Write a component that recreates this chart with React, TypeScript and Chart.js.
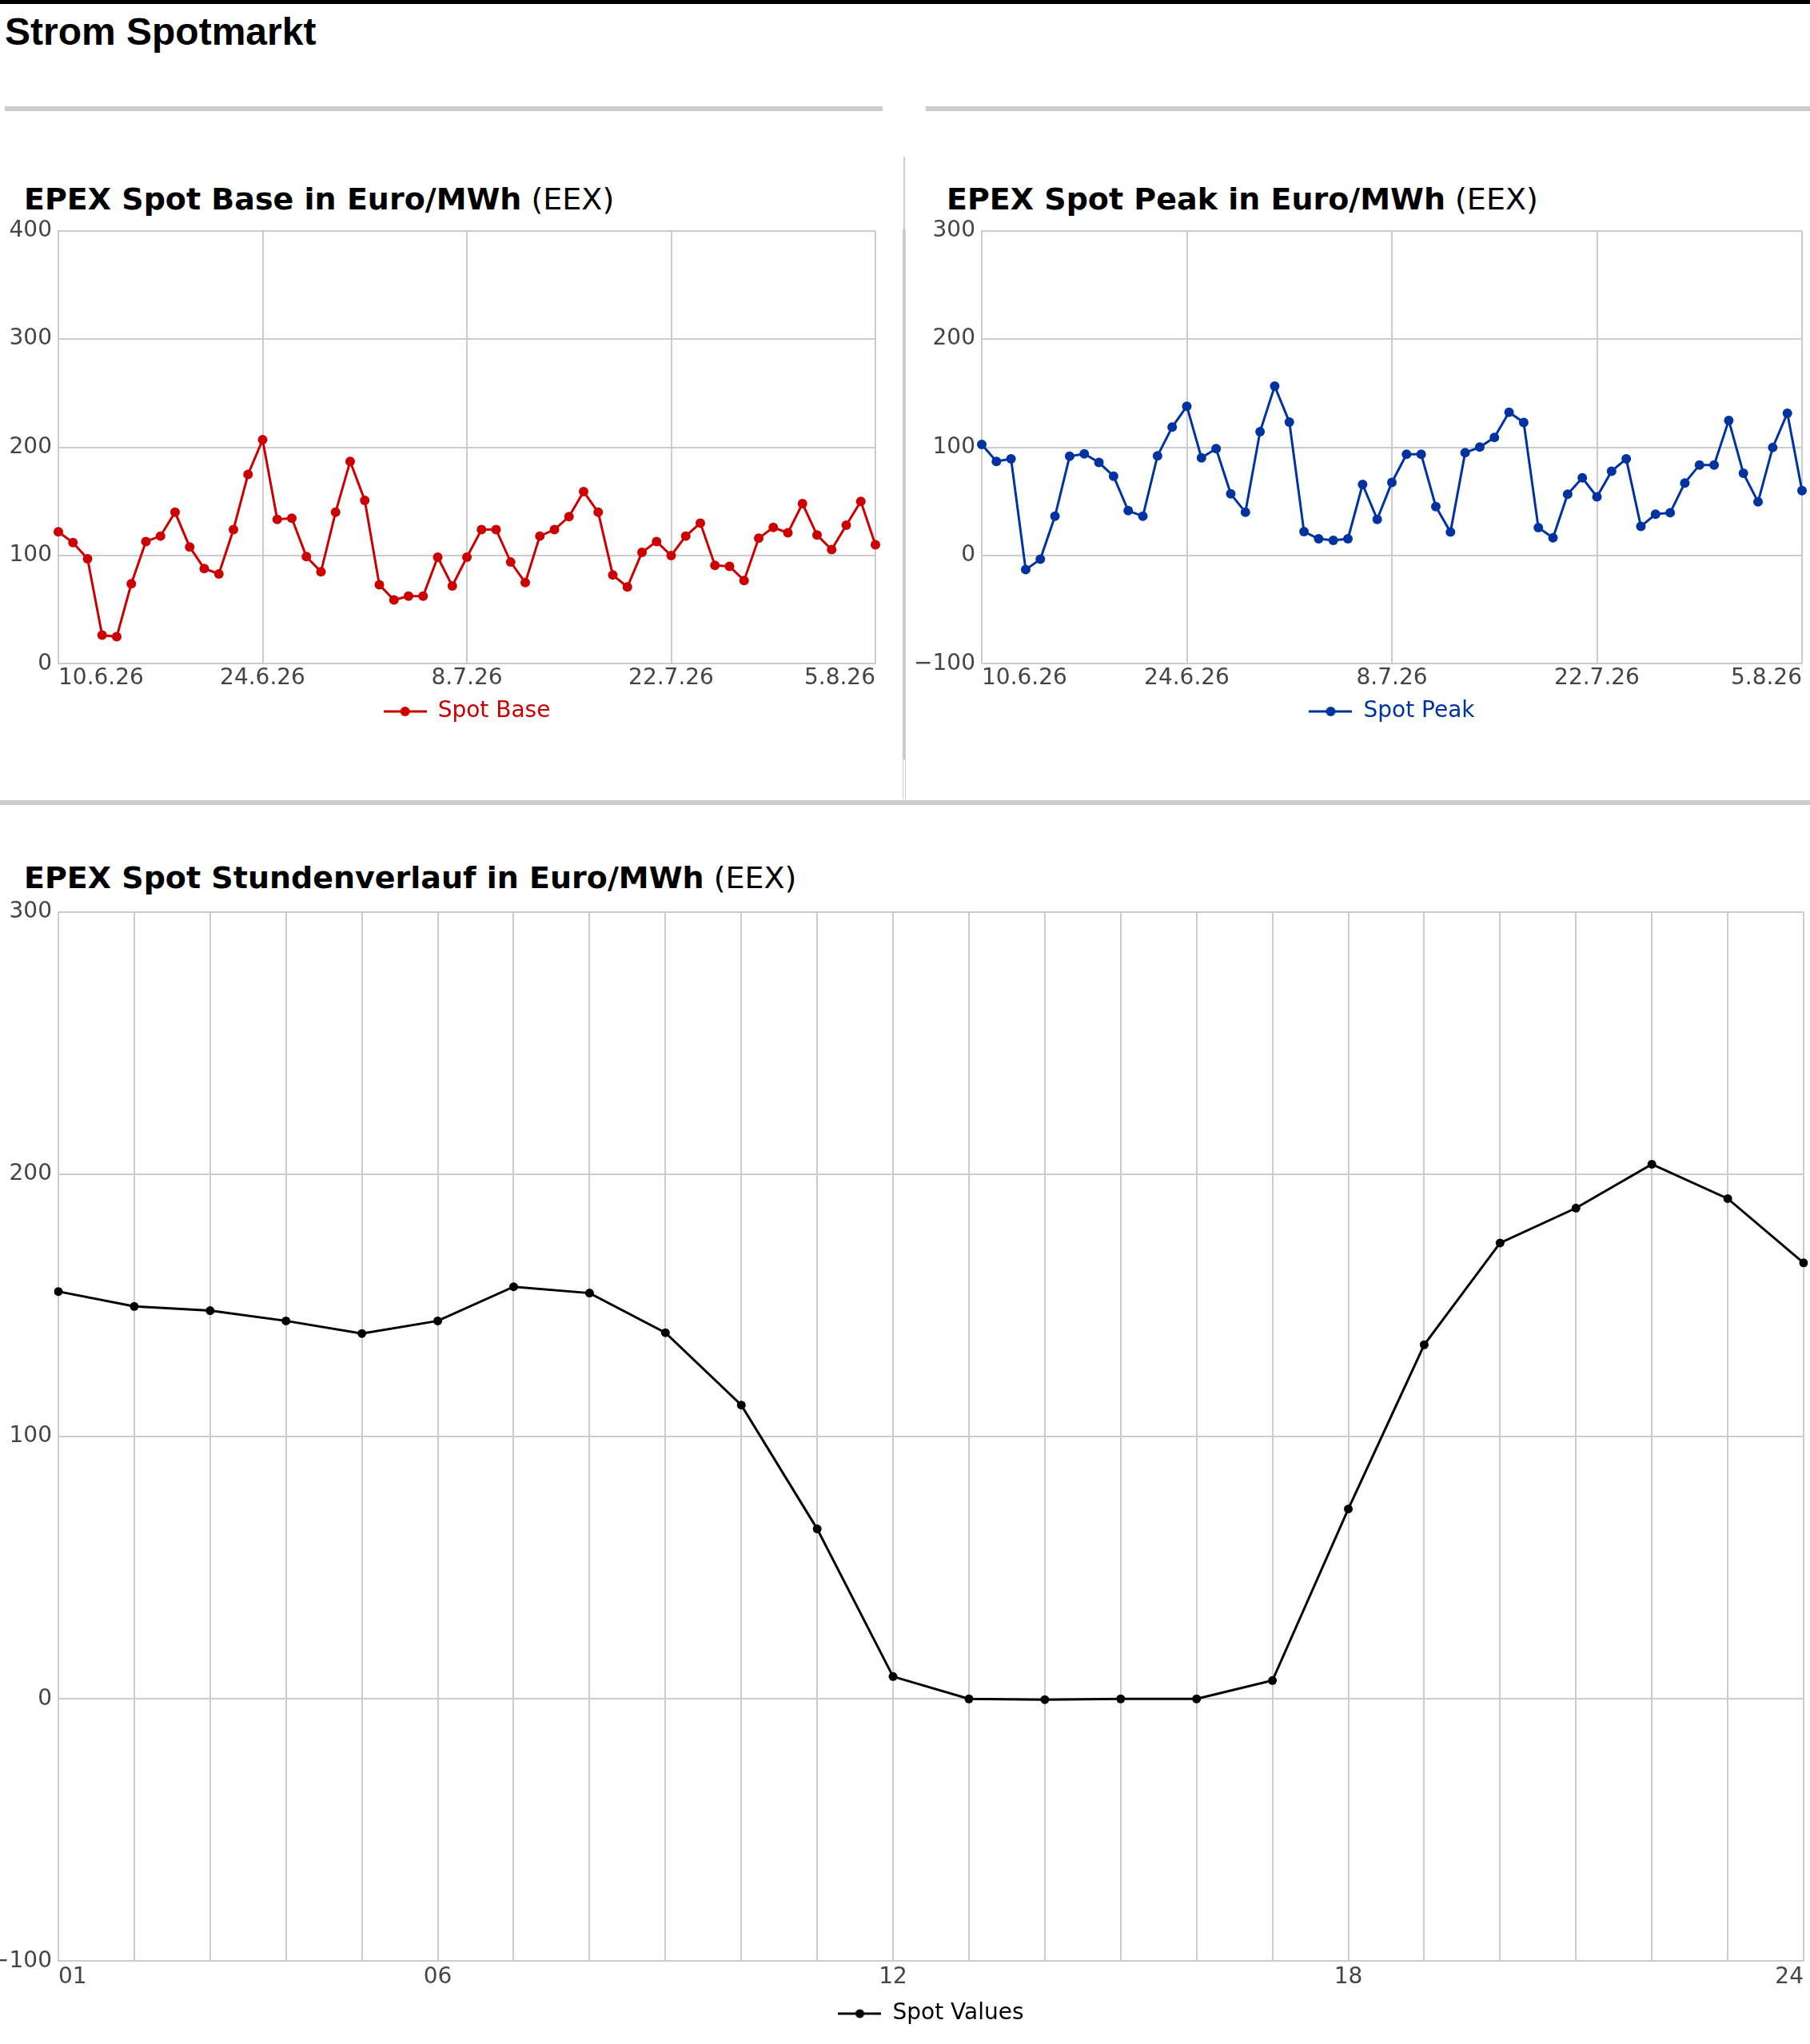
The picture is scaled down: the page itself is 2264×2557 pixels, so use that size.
import React, { useRef, useEffect } from "react";
import Chart from "chart.js/auto";

// --- data --------------------------------------------------------------

const firstDay = new Date(2026, 5, 10); // 10.6.26
const dayCount = 57;
const dateTicks = ["10.6.26", "24.6.26", "8.7.26", "22.7.26", "5.8.26"];

const spotBase = [
  122, 112, 97, 26.5, 25, 74, 113, 118, 140, 108, 88, 83, 124, 175, 207,
  133.5, 134.5, 99, 85, 140, 187, 151, 73, 59, 62.5, 62.5, 98.5, 72, 98.5,
  124, 124, 94, 75, 118, 124, 136, 159, 140, 82, 71, 103, 113, 100, 118, 130,
  91, 90, 77, 116, 126, 121, 148, 119, 105.5, 128, 150, 110,
];

const spotPeak = [
  102.6, 87, 89.3, -13, -3.4, 36.3, 91.7, 94, 86, 73.3, 41.5, 36.3, 92.2,
  118.7, 138, 90.3, 98.8, 57, 40, 114.4, 156.5, 123.4, 22.1, 15.5, 14.1, 15.5,
  65.7, 33.5, 67.6, 93.6, 93.6, 45.3, 21.7, 95, 100.2, 109.2, 132.4, 123, 25.9,
  16.4, 56.7, 71.8, 54.3, 78, 89.3, 26.9, 38.2, 39.6, 67.1, 83.7, 83.7, 124.9,
  76, 49.6, 99.8, 131.5, 60,
];

const hours = [
  "01", "02", "03", "04", "05", "06", "07", "08", "09", "10", "11", "12",
  "13", "14", "15", "16", "17", "18", "19", "20", "21", "22", "23", "24",
];
const hourTicks = ["01", "06", "12", "18", "24"];

const spotValues = [
  155.3, 149.6, 148, 144.1, 139.3, 144.1, 157.1, 154.7, 139.6, 112, 64.8, 8.5,
  0, -0.3, 0, 0, 7, 72.4, 135, 173.8, 187.1, 203.8, 190.7, 166.2,
];

const dayLabels: string[] = [];
for (let i = 0; i < dayCount; i++) {
  const d = new Date(firstDay.getFullYear(), firstDay.getMonth(), firstDay.getDate() + i);
  dayLabels.push(`${d.getDate()}.${d.getMonth() + 1}.${String(d.getFullYear()).slice(2)}`);
}

// -------------------------------------------------------------------------

const FONT = "'DejaVu Sans', sans-serif";
const GRID = "#cccccc";

function legendIcon(color: string, radius: number) {
  const c = document.createElement("canvas");
  c.width = 54;
  c.height = 16;
  const g = c.getContext("2d")!;
  g.strokeStyle = color;
  g.lineWidth = 3;
  g.beginPath();
  g.moveTo(0, 8);
  g.lineTo(54, 8);
  g.stroke();
  g.fillStyle = color;
  g.beginPath();
  g.arc(27, 8, radius, 0, Math.PI * 2);
  g.fill();
  return c;
}

type LineProps = {
  labels: string[];
  values: number[];
  tickLabels: string[];
  allGrid?: boolean;
  name: string;
  color: string;
  min: number;
  max: number;
  yWidth: number;
  padRight: number;
  pointRadius: number;
  lineWidth: number;
  legendPad: number;
  xPad: number;
  style: React.CSSProperties;
};

const LineChart = (p: LineProps) => {
  const chartRef = useRef<HTMLCanvasElement>(null);
  const chartInstanceRef = useRef<Chart>();

  useEffect(() => {
    const ctx = chartRef.current!.getContext("2d");
    if (chartInstanceRef.current) chartInstanceRef.current.destroy();
    if (!ctx) return;

    const tickFont = { family: FONT, size: 28 };

    chartInstanceRef.current = new Chart(ctx, {
      type: "line",
      data: {
        labels: p.labels,
        datasets: [
          {
            label: p.name,
            data: p.values,
            borderColor: p.color,
            backgroundColor: p.color,
            borderWidth: p.lineWidth,
            pointRadius: p.pointRadius,
            pointBorderWidth: 0,
            tension: 0,
          },
        ],
      },
      options: {
        animation: false,
        responsive: false,
        events: [],
        layout: { padding: { top: 0, right: p.padRight, bottom: 0, left: 0 } },
        plugins: {
          tooltip: { enabled: false },
          legend: {
            position: "bottom",
            fullSize: false,
            labels: {
              usePointStyle: true,
              pointStyle: legendIcon(p.color, p.pointRadius),
              pointStyleWidth: 54,
              color: p.color,
              font: { family: FONT, size: 28 },
              padding: p.legendPad,
            },
          },
        },
        scales: {
          x: {
            border: { color: GRID, width: 2 },
            grid: {
              drawTicks: false,
              lineWidth: 2,
              color: (c: any) =>
                p.allGrid || p.tickLabels.includes(p.labels[c.index]) ? GRID : "rgba(0,0,0,0)",
            },
            ticks: {
              autoSkip: false,
              maxRotation: 0,
              minRotation: 0,
              align: "inner",
              padding: p.xPad,
              color: "#444",
              font: tickFont,
              callback: (_v: any, i: number) =>
                p.tickLabels.includes(p.labels[i]) ? p.labels[i] : "",
            },
          },
          y: {
            min: p.min,
            max: p.max,
            afterFit: (s: any) => {
              s.width = p.yWidth;
            },
            border: { color: GRID, width: 2 },
            grid: { drawTicks: false, lineWidth: 2, color: GRID },
            ticks: {
              stepSize: 100,
              padding: 8,
              color: "#444",
              font: tickFont,
              callback: (v: any) => (v < 0 ? "\u2212" + Math.abs(v) : String(v)),
            },
          },
        },
      },
    });

    return () => {
      if (chartInstanceRef.current) chartInstanceRef.current.destroy();
    };
  }, []);

  const { width, height } = p.style as any;
  return <canvas ref={chartRef} width={width} height={height} style={{ position: "absolute", ...p.style }} />;
};

const ChartTitle = ({ bold, left, top }: { bold: string; left: number; top: number }) => (
  <div
    style={{
      position: "absolute",
      left,
      top,
      fontFamily: FONT,
      fontSize: 38,
      lineHeight: "38px",
      color: "#000",
      whiteSpace: "nowrap",
    }}
  >
    <b>{bold}</b> (EEX)
  </div>
);

const bar = (s: React.CSSProperties) => (
  <div style={{ position: "absolute", background: GRID, ...s }} />
);

const App = () => {
  return (
    <div
      style={{
        position: "absolute",
        left: 0,
        top: 0,
        width: 2264,
        height: 2557,
        overflow: "hidden",
        background: "#fff",
      }}
    >
      <div style={{ position: "absolute", left: 0, top: 0, width: 2264, height: 5, background: "#000" }} />
      <div
        style={{
          position: "absolute",
          left: 6,
          top: 16,
          fontFamily: "'Liberation Sans', Arial, sans-serif",
          fontWeight: "bold",
          fontSize: 48,
          lineHeight: "48px",
          color: "#000",
        }}
      >
        Strom Spotmarkt
      </div>
      {bar({ left: 6, top: 133, width: 1098, height: 6 })}
      {bar({ left: 1158, top: 133, width: 1106, height: 6 })}
      {bar({ left: 1130, top: 196, width: 2, height: 91 })}
      {bar({ left: 1129, top: 287, width: 4, height: 663 })}
      {bar({ left: 1129, top: 950, width: 1, height: 50 })}
      {bar({ left: 1132, top: 950, width: 1, height: 50 })}
      {bar({ left: 0, top: 1001, width: 2264, height: 6 })}

      <ChartTitle bold="EPEX Spot Base in Euro/MWh" left={30} top={230} />
      <ChartTitle bold="EPEX Spot Peak in Euro/MWh" left={1184} top={230} />
      <ChartTitle bold="EPEX Spot Stundenverlauf in Euro/MWh" left={30} top={1079} />

      <LineChart
        labels={dayLabels}
        values={spotBase}
        tickLabels={dateTicks}
        name="Spot Base"
        color="#cc0000"
        min={0}
        max={400}
        yWidth={73}
        padRight={15}
        pointRadius={6}
        lineWidth={3}
        legendPad={8}
        xPad={2}
        style={{ left: 0, top: 264, width: 1110, height: 650 }}
      />
      <LineChart
        labels={dayLabels}
        values={spotPeak}
        tickLabels={dateTicks}
        name="Spot Peak"
        color="#0033a0"
        min={-100}
        max={300}
        yWidth={93}
        padRight={10}
        pointRadius={6}
        lineWidth={3}
        legendPad={8}
        xPad={2}
        style={{ left: 1135, top: 264, width: 1129, height: 650 }}
      />
      <LineChart
        labels={hours}
        values={spotValues}
        tickLabels={hourTicks}
        allGrid
        name="Spot Values"
        color="#000000"
        min={-100}
        max={300}
        yWidth={73}
        padRight={8}
        pointRadius={5.5}
        lineWidth={3}
        legendPad={10}
        xPad={4}
        style={{ left: 0, top: 1116, width: 2264, height: 1427 }}
      />
    </div>
  );
};

export default App;
